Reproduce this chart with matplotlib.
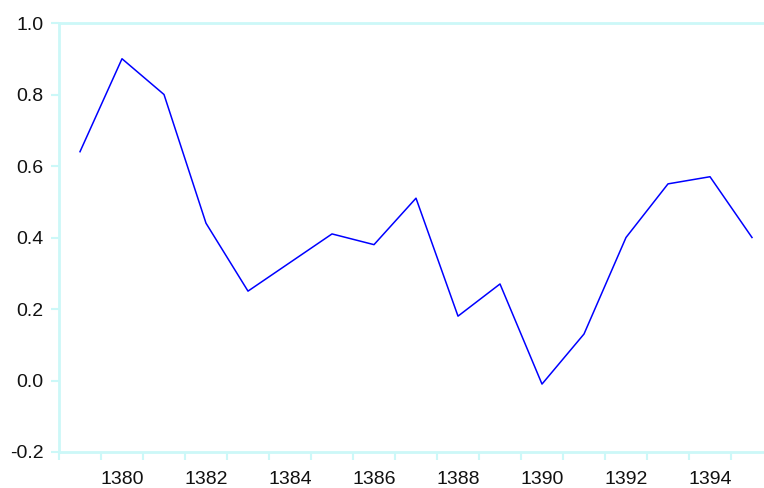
import matplotlib.pyplot as plt
import numpy as np

plt.rcParams['font.family'] = ['Liberation Sans', 'DejaVu Sans']

years = np.arange(1379, 1396)
values = [0.64, 0.90, 0.80, 0.44, 0.25, 0.33, 0.41, 0.38, 0.51,
          0.18, 0.27, -0.01, 0.13, 0.40, 0.55, 0.57, 0.40]
xtick_labels = ['1380', '1382', '1384', '1386', '1388', '1390', '1392', '1394']
yticks = [-0.2, 0.0, 0.2, 0.4, 0.6, 0.8, 1.0]

axis_color = '#ccf8f8'

fig = plt.figure(figsize=(7.64, 4.88), dpi=100)
# axes runs a little past the right edge, as in the original
ax = fig.add_axes([59 / 764, 1 - 452 / 488, (773 - 59) / 764, (452 - 23) / 488])

ax.plot(years, values, color='#0000ff', linewidth=1.1)

ax.set_xlim(1378.5, 1395.5)
ax.set_ylim(-0.2, 1.0)

# year ticks sit on the period boundaries, labels in the middle
ax.set_xticks(np.arange(1378.5, 1396, 1.0))
ax.set_xticklabels([])
ax.set_xticks([int(s) for s in xtick_labels], minor=True)
ax.set_xticklabels(xtick_labels, minor=True)
ax.tick_params(axis='x', which='major', length=6, width=1.5, color=axis_color, direction='out')
ax.tick_params(axis='x', which='minor', length=0, pad=14, labelsize=14, labelcolor='#111111')

ax.set_yticks(yticks)
ax.set_yticklabels([f'{v:.1f}' for v in yticks])
ax.tick_params(axis='y', length=6, width=1.5, color=axis_color, pad=5,
               labelsize=14, labelcolor='#111111')

for side in ['left', 'top', 'bottom']:
    ax.spines[side].set_color(axis_color)
    ax.spines[side].set_linewidth(2)
ax.spines['right'].set_visible(False)

fig.savefig('out.png', dpi=100)
